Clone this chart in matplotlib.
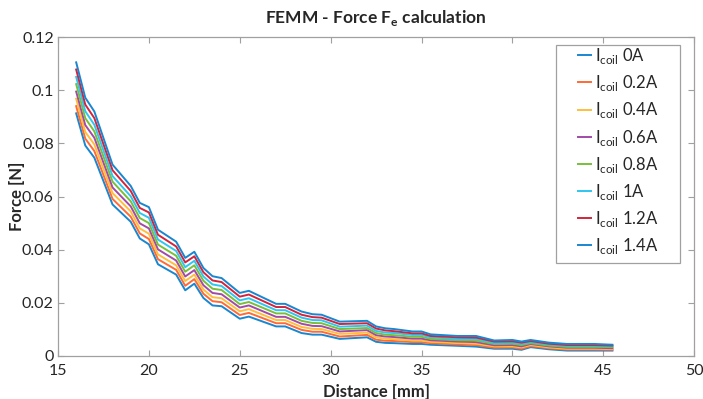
import matplotlib
matplotlib.use('Agg')
import matplotlib.pyplot as plt
from matplotlib.patches import Rectangle

plt.rcParams['font.family'] = ['Lato', 'DejaVu Sans']
plt.rcParams['mathtext.fontset'] = 'custom'
plt.rcParams['mathtext.rm'] = 'Lato'

# distance [mm]
dist = [16, 16.5, 17, 18, 19, 19.5, 20, 20.5, 21.5, 22, 22.5, 23, 23.5, 24, 25, 25.5,
        27, 27.5, 28.4, 29, 29.5, 30, 30.5, 32, 32.5, 33, 33.5, 34.5, 35, 35.5, 37, 38,
        39, 40, 40.5, 41, 42, 43, 44.5, 45.5]

# force [N] for each coil current
f_0a = [0.0913, 0.0792, 0.0746, 0.0570, 0.0505, 0.0442, 0.0420, 0.0345, 0.0306, 0.0247,
        0.0272, 0.0218, 0.0190, 0.0187, 0.0140, 0.0148, 0.0111, 0.0111, 0.0086, 0.0080,
        0.0080, 0.0072, 0.0064, 0.0070, 0.0053, 0.0049, 0.0048, 0.0045, 0.0045, 0.0042,
        0.0038, 0.0035, 0.0027, 0.0027, 0.0023, 0.0033, 0.0025, 0.0020, 0.0020, 0.0020]
f_02a = [0.0940, 0.0818, 0.0771, 0.0591, 0.0524, 0.0461, 0.0440, 0.0364, 0.0324, 0.0264,
         0.0289, 0.0234, 0.0206, 0.0202, 0.0154, 0.0162, 0.0123, 0.0123, 0.0098, 0.0091,
         0.0091, 0.0082, 0.0073, 0.0079, 0.0061, 0.0057, 0.0056, 0.0052, 0.0052, 0.0048,
         0.0043, 0.0041, 0.0031, 0.0032, 0.0027, 0.0037, 0.0029, 0.0024, 0.0024, 0.0023]
f_04a = [0.0968, 0.0843, 0.0796, 0.0613, 0.0544, 0.0480, 0.0460, 0.0382, 0.0341, 0.0282,
         0.0306, 0.0250, 0.0221, 0.0217, 0.0168, 0.0176, 0.0135, 0.0135, 0.0109, 0.0102,
         0.0101, 0.0092, 0.0083, 0.0088, 0.0070, 0.0065, 0.0063, 0.0058, 0.0058, 0.0053,
         0.0049, 0.0046, 0.0036, 0.0036, 0.0032, 0.0041, 0.0032, 0.0027, 0.0027, 0.0026]
f_06a = [0.0995, 0.0869, 0.0821, 0.0634, 0.0563, 0.0499, 0.0480, 0.0401, 0.0359, 0.0299,
         0.0323, 0.0266, 0.0237, 0.0232, 0.0182, 0.0190, 0.0147, 0.0147, 0.0121, 0.0113,
         0.0112, 0.0102, 0.0092, 0.0097, 0.0078, 0.0073, 0.0071, 0.0065, 0.0065, 0.0059,
         0.0054, 0.0052, 0.0040, 0.0041, 0.0036, 0.0045, 0.0036, 0.0031, 0.0031, 0.0029]
f_08a = [0.1023, 0.0895, 0.0845, 0.0656, 0.0582, 0.0519, 0.0500, 0.0419, 0.0377, 0.0317,
         0.0341, 0.0283, 0.0253, 0.0248, 0.0195, 0.0203, 0.0160, 0.0160, 0.0132, 0.0124,
         0.0123, 0.0112, 0.0101, 0.0105, 0.0086, 0.0080, 0.0078, 0.0072, 0.0072, 0.0064,
         0.0059, 0.0058, 0.0045, 0.0046, 0.0041, 0.0048, 0.0039, 0.0034, 0.0034, 0.0033]
f_1a = [0.1050, 0.0921, 0.0870, 0.0677, 0.0601, 0.0538, 0.0520, 0.0438, 0.0395, 0.0334,
        0.0358, 0.0299, 0.0269, 0.0263, 0.0209, 0.0217, 0.0172, 0.0172, 0.0144, 0.0135,
        0.0134, 0.0122, 0.0110, 0.0114, 0.0094, 0.0088, 0.0086, 0.0079, 0.0079, 0.0070,
        0.0064, 0.0064, 0.0049, 0.0051, 0.0045, 0.0052, 0.0043, 0.0038, 0.0038, 0.0036]
f_12a = [0.1078, 0.0946, 0.0895, 0.0699, 0.0621, 0.0557, 0.0540, 0.0456, 0.0412, 0.0352,
         0.0375, 0.0315, 0.0284, 0.0278, 0.0223, 0.0231, 0.0184, 0.0184, 0.0155, 0.0146,
         0.0144, 0.0132, 0.0120, 0.0123, 0.0103, 0.0096, 0.0093, 0.0085, 0.0085, 0.0075,
         0.0070, 0.0069, 0.0054, 0.0055, 0.0050, 0.0056, 0.0046, 0.0041, 0.0041, 0.0039]
f_14a = [0.1105, 0.0972, 0.0920, 0.0720, 0.0640, 0.0576, 0.0560, 0.0475, 0.0430, 0.0369,
         0.0392, 0.0331, 0.0300, 0.0293, 0.0237, 0.0245, 0.0196, 0.0196, 0.0167, 0.0157,
         0.0155, 0.0142, 0.0129, 0.0132, 0.0111, 0.0104, 0.0101, 0.0092, 0.0092, 0.0081,
         0.0075, 0.0075, 0.0058, 0.0060, 0.0054, 0.0060, 0.0050, 0.0045, 0.0045, 0.0042]

currents = ['0A', '0.2A', '0.4A', '0.6A', '0.8A', '1A', '1.2A', '1.4A']
forces = [f_0a, f_02a, f_04a, f_06a, f_08a, f_1a, f_12a, f_14a]
colors = ['#1a86d0', '#ff6a35', '#ffbe3c', '#a14aa6', '#78bf3a', '#2ec6f0', '#d2243c', '#1a86d0']

fig = plt.figure(figsize=(7.03, 3.99), dpi=100)
ax = fig.add_axes([0.0825, 0.108, 0.905, 0.799])

for cur, f, c in zip(currents, forces, colors):
    ax.plot(dist, f, color=c, linewidth=1.4, label=r'I$_{\mathregular{coil}}$ ' + cur)

ax.set_xlim(15, 50)
ax.set_ylim(0, 0.12)
ax.set_xticks([15, 20, 25, 30, 35, 40, 45, 50])
ax.set_yticks([0, 0.02, 0.04, 0.06, 0.08, 0.1, 0.12])
ax.set_yticklabels(['0', '0.02', '0.04', '0.06', '0.08', '0.1', '0.12'])

grey = '#a0a0a0'
for s in ax.spines.values():
    s.set_color(grey)
    s.set_linewidth(0.9)
ax.tick_params(direction='in', top=True, right=True, length=4, color=grey,
               labelsize=11.5, labelcolor='#262626')
ax.tick_params(axis='x', pad=6)
ax.tick_params(axis='y', pad=3)

ax.set_xlabel('Distance [mm]', fontsize=12, fontweight='bold', color='#262626', labelpad=4)
ax.set_ylabel('Force [N]', fontsize=12, fontweight='bold', color='#262626', labelpad=-2)
ax.set_title(r'FEMM - Force F$_{\mathregular{e}}$ calculation', fontsize=12.5,
             fontweight='bold', color='#262626', pad=10)

# legend box (MATLAB style, wide padding)
box = Rectangle((0.782, 0.292), 0.196, 0.683, transform=ax.transAxes,
                facecolor='white', edgecolor=grey, linewidth=0.9, zorder=4)
ax.add_patch(box)
leg = ax.legend(loc='upper left', bbox_to_anchor=(0.817, 0.972), borderaxespad=0,
                fontsize=12, handlelength=0.8, handletextpad=0.25, labelspacing=0.43,
                frameon=False, borderpad=0)
leg.set_zorder(5)
for t in leg.get_texts():
    t.set_color('#262626')

fig.savefig('out.png', dpi=100)
